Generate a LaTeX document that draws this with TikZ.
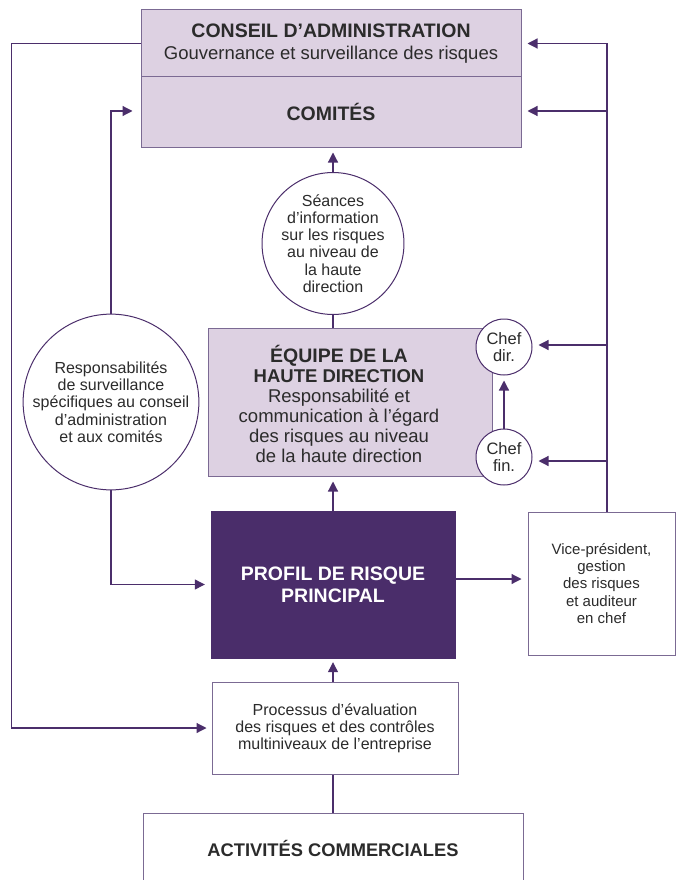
\documentclass[tikz,border=0pt]{standalone}
\usepackage{fontspec}
\setmainfont{Liberation Sans}
\usetikzlibrary{arrows.meta,calc}
\definecolor{lnc}{HTML}{4B2E6B}
\definecolor{dark}{HTML}{4A2D6A}
\definecolor{lite}{HTML}{DDD1E2}
\definecolor{bord}{HTML}{7B6A93}
\definecolor{txt}{HTML}{2B2B2B}
\tikzset{
  conn/.style={draw=lnc,line width=1.2pt},
  arr/.style={conn,-{Triangle[length=10pt,width=10pt]}},
  litebox/.style={draw=bord,line width=1pt,fill=lite,inner sep=0pt,text=txt,align=center},
  whitebox/.style={draw=bord,line width=1pt,fill=white,inner sep=0pt,text=txt,align=center},
  bubble/.style={circle,draw=lnc,line width=1pt,fill=white,inner sep=0pt,text=txt,align=center},
  headf/.style={font=\fontsize{19.5}{22}\selectfont\bfseries},
  smallf/.style={font=\fontsize{16}{17.2}\selectfont},
}
\begin{document}
\begin{tikzpicture}[x=1pt,y=-1pt]
\useasboundingbox (0,0) rectangle (675,880);
% boxes
\node[litebox,font=\fontsize{18.5}{22}\selectfont,minimum width=380pt,minimum height=67pt] (conseil) at (331,43.5)
  {\fontsize{19.5}{22}\selectfont\bfseries CONSEIL D’ADMINISTRATION\\\fontsize{18.5}{22}\selectfont\mdseries Gouvernance et surveillance des risques};
\node[litebox,headf,minimum width=380pt,minimum height=70pt] (comites) at (331,112) {COMITÉS};
\node[bubble,smallf,minimum size=129pt] (seances) at (333,243.5)
  {Séances\\d’information\\sur les risques\\au niveau de\\la haute\\direction};
\node[litebox,minimum width=284pt,minimum height=148pt] (equipe) at (350,402) {};
\node[text=txt,align=center,font=\fontsize{18.5}{20}\selectfont] (equipetext) at (339,404)
  {\fontsize{19.5}{20}\selectfont\bfseries ÉQUIPE DE LA\\\bfseries HAUTE DIRECTION\\\fontsize{18.5}{20}\selectfont\mdseries Responsabilité et\\communication à l’égard\\des risques au niveau\\de la haute direction};
\node[bubble,font=\fontsize{16.5}{16.7}\selectfont,minimum size=56pt] (chefdir) at (504,347) {Chef\\dir.};
\node[bubble,font=\fontsize{16.5}{16.7}\selectfont,minimum size=56pt] (cheffin) at (504,457) {Chef\\fin.};
\node[bubble,smallf,minimum size=169pt] (resp) at (111,402)
  {Responsabilités\\de surveillance\\spécifiques au conseil\\d’administration\\et aux comités};
\node[draw=dark,fill=dark,text=white,align=center,headf,minimum width=244pt,minimum height=147pt,inner sep=0pt] (profil) at (333,584.5)
  {PROFIL DE RISQUE\\PRINCIPAL};
\node[whitebox,font=\fontsize{15}{17.1}\selectfont,minimum width=147pt,minimum height=143pt] (vp) at (601.5,583.5)
  {Vice-président,\\gestion\\des risques\\et auditeur\\en chef};
\node[whitebox,smallf,minimum width=246pt,minimum height=92pt] (process) at (335,728)
  {Processus d’évaluation\\des risques et des contrôles\\multiniveaux de l’entreprise};
\node[whitebox,font=\fontsize{18.3}{22}\selectfont\bfseries,minimum width=380pt,minimum height=70pt] (activites) at (333,848)
  {ACTIVITÉS COMMERCIALES};
% right trunk
\coordinate (r1) at (607,43.5);
\coordinate (r2) at (607,111);
\coordinate (r3) at (607,345);
\coordinate (r4) at (607,461);
\draw[conn] ([xshift=5.5pt]vp.north) -- (r1);
\draw[arr,shorten >=6pt] (r1) -- (conseil.east);
\draw[arr,shorten >=6pt] (r2) -- (comites.east |- r2);
\draw[arr,shorten >=6pt] (r3) -- (chefdir.east |- r3);
\draw[arr,shorten >=6pt] (r4) -- (cheffin.east |- r4);
% outer left
\draw[arr,shorten >=5pt] (conseil.west) -- ++(-129,0) |- (process.west);
% inner left
\draw[arr,shorten >=8pt] (resp.north) |- (comites.west |- 0,111);
\draw[arr,shorten >=6pt] (resp.south) |- (profil.west);
% centre column
\draw[arr,shorten >=5pt] (seances.north) -- (seances.north |- comites.south);
\draw[conn] (seances.south) -- (seances.south |- equipe.north);
\draw[arr,shorten >=5pt] (cheffin.north) -- (chefdir.south);
\draw[arr,shorten >=5pt] (profil.north) -- (profil.north |- equipe.south);
\draw[arr,shorten >=6pt] (profil.east |- 0,579) -- (vp.west |- 0,579);
\draw[arr,shorten >=4pt] (profil.south |- process.north) -- (profil.south);
\draw[conn] (activites.north) -- (activites.north |- process.south);
\end{tikzpicture}
\end{document}
